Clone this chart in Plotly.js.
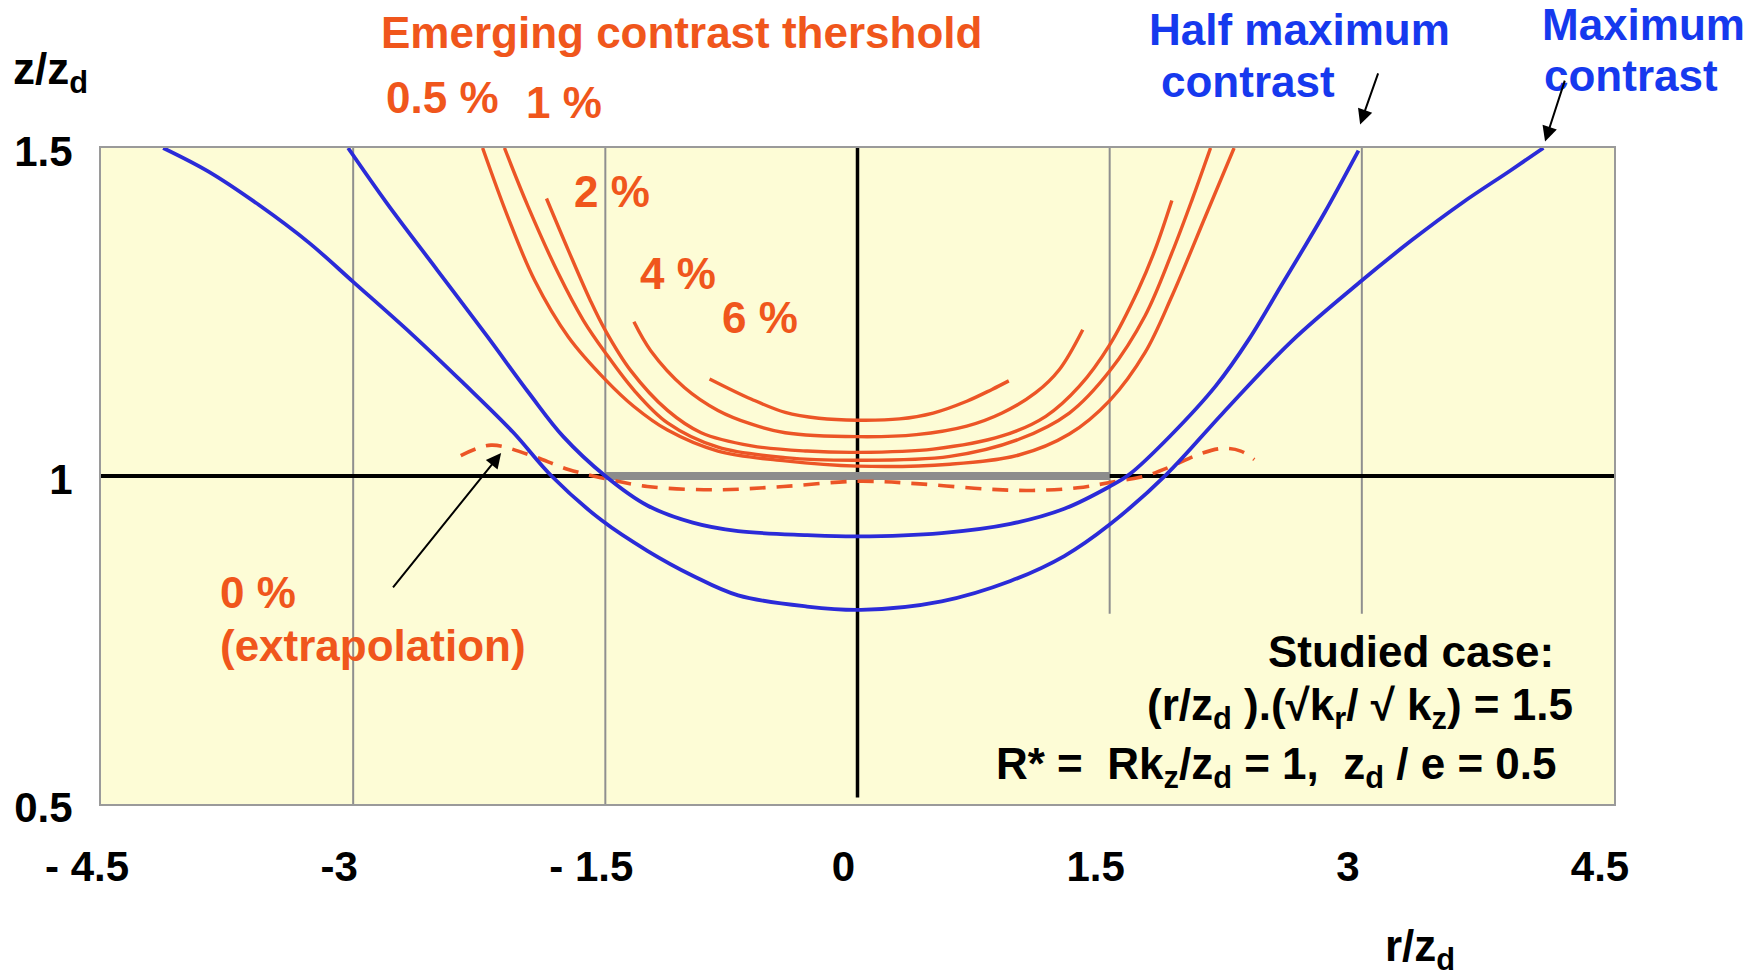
<!DOCTYPE html>
<html>
<head>
<meta charset="utf-8">
<script src="https://cdn.plot.ly/plotly-3.0.1.min.js"></script>
<style>
  html, body { margin: 0; padding: 0; background: #ffffff; }
  #chart { width: 1755px; height: 979px; }
</style>
</head>
<body>
<div id="chart"></div>
<script>
// Contours of z/z_d against r/z_d

// Maximum contrast (outer blue curve)
const maxContrastX = [-4.13, -3.86, -3.56, -3.26, -3.0, -2.65, -2.35, -2.05, -1.82, -1.52, -1.25, -0.98, -0.71, -0.30, 0.02, 0.50, 0.91, 1.23, 1.50, 1.84, 2.17, 2.58, 3.0, 3.30, 3.60, 3.88, 4.08];
const maxContrastY = [1.5, 1.464, 1.413, 1.355, 1.296, 1.216, 1.143, 1.067, 1.0, 0.932, 0.886, 0.848, 0.818, 0.801, 0.796, 0.809, 0.840, 0.878, 0.926, 1.003, 1.095, 1.205, 1.298, 1.360, 1.417, 1.465, 1.5];

// Half maximum contrast (inner blue curve)
const halfMaxX = [-3.03, -2.80, -2.50, -2.20, -1.95, -1.75, -1.50, -1.25, -0.98, -0.71, -0.30, 0.0, 0.50, 0.91, 1.23, 1.50, 1.62, 1.86, 2.13, 2.33, 2.52, 2.64, 2.78, 2.98];
const halfMaxY = [1.5, 1.416, 1.314, 1.212, 1.125, 1.060, 1.0, 0.955, 0.929, 0.916, 0.910, 0.908, 0.913, 0.927, 0.950, 0.984, 1.003, 1.061, 1.137, 1.209, 1.290, 1.341, 1.402, 1.496];

// Emerging contrast thresholds: 0 % (extrapolated), 0.5 %, 1 %, 2 %, 4 %, 6 %
const thr0X = [-2.36, -2.18, -1.96, -1.72, -1.50, -1.25, -0.84, -0.44, 0.0, 0.37, 0.77, 1.04, 1.31, 1.50, 1.71, 1.87, 2.03, 2.17, 2.28, 2.36];
const thr0Y = [1.031, 1.047, 1.033, 1.010, 0.996, 0.984, 0.979, 0.984, 0.992, 0.988, 0.980, 0.978, 0.982, 0.990, 1.0, 1.015, 1.033, 1.042, 1.038, 1.025];

const thr05X = [-2.23, -2.08, -1.92, -1.72, -1.50, -1.33, -1.13, -0.83, -0.43, 0.0, 0.55, 0.96, 1.26, 1.50, 1.71, 1.87, 2.07, 2.24];
const thr05Y = [1.5, 1.395, 1.298, 1.212, 1.147, 1.106, 1.070, 1.038, 1.023, 1.015, 1.018, 1.032, 1.064, 1.115, 1.188, 1.274, 1.396, 1.5];

const thr1X = [-2.10, -1.96, -1.78, -1.63, -1.50, -1.33, -1.13, -0.83, -0.43, 0.0, 0.55, 0.96, 1.26, 1.50, 1.71, 1.87, 1.99, 2.10];
const thr1Y = [1.5, 1.411, 1.309, 1.237, 1.188, 1.131, 1.081, 1.044, 1.028, 1.024, 1.030, 1.056, 1.096, 1.160, 1.244, 1.340, 1.421, 1.5];

const thr2X = [-1.85, -1.72, -1.59, -1.50, -1.35, -1.13, -0.93, -0.63, -0.30, 0.0, 0.45, 0.86, 1.12, 1.32, 1.50, 1.67, 1.77, 1.87];
const thr2Y = [1.423, 1.344, 1.268, 1.222, 1.161, 1.100, 1.066, 1.046, 1.038, 1.036, 1.041, 1.061, 1.091, 1.137, 1.200, 1.284, 1.345, 1.420];

const thr4X = [-1.33, -1.23, -1.03, -0.83, -0.63, -0.43, 0.0, 0.35, 0.65, 0.86, 1.06, 1.20, 1.34];
const thr4Y = [1.235, 1.191, 1.135, 1.100, 1.079, 1.066, 1.060, 1.063, 1.076, 1.096, 1.127, 1.162, 1.223];

const thr6X = [-0.88, -0.63, -0.43, -0.23, 0.0, 0.25, 0.45, 0.65, 0.80, 0.90];
const thr6Y = [1.148, 1.117, 1.097, 1.088, 1.085, 1.087, 1.096, 1.114, 1.132, 1.145];

// Axis ticks
const xTickVals = [-4.5, -3, -1.5, 0, 1.5, 3, 4.5];
const xTickText = ['- 4.5', '-3', '- 1.5', '0', '1.5', '3', '4.5'];
const yTickVals = [0.5, 1, 1.5];
const yTickText = ['0.5', '1', '1.5'];

const X_RANGE = [-4.5, 4.5];
const Y_RANGE = [0.5, 1.5];
const MARGIN = { l: 101, r: 141, t: 148, b: 175 };
const W = 1755, H = 979;
const PLOT_W = W - MARGIN.l - MARGIN.r;
const PLOT_H = H - MARGIN.t - MARGIN.b;

const FONT = 'Liberation Sans, Arial, Helvetica, sans-serif';
const ORANGE_LINE = '#ec5526';
const ORANGE_TEXT = '#f0561c';
const BLUE_LINE = '#2b2bd8';
const BLUE_TEXT = '#1639ee';
const GRID = '#8f8f8f';

// data value -> paper fraction (labels may sit outside the axis ranges)
function px(x) { return (x - X_RANGE[0]) / (X_RANGE[1] - X_RANGE[0]); }
function py(y) { return (y - Y_RANGE[0]) / (Y_RANGE[1] - Y_RANGE[0]); }

function curve(x, y, color, width, dash) {
  return {
    type: 'scatter', mode: 'lines', x: x, y: y, hoverinfo: 'skip',
    line: { color: color, width: width, dash: dash || 'solid', shape: 'spline', smoothing: 1 },
    showlegend: false, cliponaxis: false
  };
}

const traces = [
  curve(thr0X, thr0Y, ORANGE_LINE, 3.6, '16px,11px'),
  curve(thr05X, thr05Y, ORANGE_LINE, 3.4),
  curve(thr1X, thr1Y, ORANGE_LINE, 3.4),
  curve(thr2X, thr2Y, ORANGE_LINE, 3.4),
  curve(thr4X, thr4Y, ORANGE_LINE, 3.4),
  curve(thr6X, thr6Y, ORANGE_LINE, 3.4),
  curve(halfMaxX, halfMaxY, BLUE_LINE, 3.8),
  curve(maxContrastX, maxContrastY, BLUE_LINE, 3.8)
];

// Vertical guide lines at the inner ticks: the centre one is the black axis,
// the two on the right stop above the case description.
const shapes = [];
xTickVals.slice(1, -1).forEach(function (v) {
  if (v === 0) {
    shapes.push({ type: 'line', layer: 'below', xref: 'x', yref: 'y', x0: v, x1: v, y0: 0.51, y1: 1.5,
      line: { color: '#000000', width: 3.5 } });
  } else {
    shapes.push({ type: 'line', layer: 'below', xref: 'x', yref: 'y', x0: v, x1: v, y0: v > 0 ? 0.79 : 0.5, y1: 1.5,
      line: { color: GRID, width: 2 } });
  }
});
// z = z_d reference line with the grey segment over |r/z_d| <= 1.5
shapes.push({ type: 'line', layer: 'below', xref: 'x', yref: 'y', x0: -4.5, x1: 4.5, y0: 1, y1: 1,
  line: { color: '#000000', width: 4 } });
shapes.push({ type: 'line', layer: 'below', xref: 'x', yref: 'y', x0: -1.5, x1: 1.5, y0: 1, y1: 1,
  line: { color: '#8c8c8c', width: 8 } });

function label(text, x, y, color, opts) {
  return Object.assign({
    xref: 'paper', yref: 'paper', x: px(x), y: py(y), text: text, showarrow: false,
    xanchor: 'center', yanchor: 'middle',
    font: { family: FONT, size: 44, color: color, weight: 700 }
  }, opts || {});
}

function arrow(xHead, yHead, xTail, yTail) {
  const ux = PLOT_W / (X_RANGE[1] - X_RANGE[0]);
  const uy = PLOT_H / (Y_RANGE[1] - Y_RANGE[0]);
  return {
    xref: 'paper', yref: 'paper', x: px(xHead), y: py(yHead),
    ax: (xTail - xHead) * ux, ay: -(yTail - yHead) * uy,
    text: '', showarrow: true, arrowhead: 2, arrowsize: 1.5, arrowwidth: 2, arrowcolor: '#000000', standoff: 0
  };
}

const annotations = [
  label('Emerging contrast thershold', -1.047, 1.676, ORANGE_TEXT),
  label('0.5 %', -2.467, 1.577, ORANGE_TEXT),
  label('1 %', -1.747, 1.570, ORANGE_TEXT),
  label('2 %', -1.46, 1.433, ORANGE_TEXT),
  label('4 %', -1.067, 1.309, ORANGE_TEXT),
  label('6 %', -0.58, 1.241, ORANGE_TEXT),
  label('0 %', -3.807, 0.8225, ORANGE_TEXT, { xanchor: 'left' }),
  label('(extrapolation)', -3.807, 0.742, ORANGE_TEXT, { xanchor: 'left' }),
  label('Half maximum', 2.627, 1.681, BLUE_TEXT),
  label('contrast', 2.32, 1.602, BLUE_TEXT),
  label('Maximum', 4.673, 1.689, BLUE_TEXT),
  label('contrast', 4.60, 1.611, BLUE_TEXT),
  label('Studied case:', 3.293, 0.732, '#000000'),
  label('(r/z<sub>d</sub> ).(\u221Ak<sub>r</sub>/ \u221A k<sub>z</sub>) = 1.5', 2.987, 0.647, '#000000'),
  label('R* =\u00A0 Rk<sub>z</sub>/z<sub>d</sub> = 1,\u00A0 z<sub>d</sub> / e = 0.5', 2.493, 0.556, '#000000'),
  label('z/z<sub>d</sub>', -4.80, 1.616, '#000000'),
  label('r/z<sub>d</sub>', 3.347, 0.279, '#000000'),
  arrow(2.99, 1.536, 3.10, 1.616),
  arrow(4.09, 1.510, 4.21, 1.605),
  arrow(-2.12, 1.035, -2.77, 0.828)
];

const layout = {
  width: W, height: H,
  margin: { l: MARGIN.l, r: MARGIN.r, t: MARGIN.t, b: MARGIN.b, pad: 0 },
  paper_bgcolor: '#ffffff',
  plot_bgcolor: '#fdfcd6',
  showlegend: false,
  xaxis: {
    range: X_RANGE, fixedrange: true, showgrid: false, zeroline: false,
    showline: true, mirror: true, linecolor: '#9a9a9a', linewidth: 2,
    tickmode: 'array', tickvals: xTickVals, ticktext: xTickText,
    ticks: '', ticklabelstandoff: 25, ticklabelshift: -14,
    tickfont: { family: FONT, size: 42, color: '#000000', weight: 700 }
  },
  yaxis: {
    range: Y_RANGE, fixedrange: true, showgrid: false, zeroline: false,
    showline: true, mirror: true, linecolor: '#9a9a9a', linewidth: 2,
    tickmode: 'array', tickvals: yTickVals, ticktext: yTickText,
    ticks: '', ticklabelstandoff: 18, ticklabelshift: 3,
    tickfont: { family: FONT, size: 42, color: '#000000', weight: 700 }
  },
  shapes: shapes,
  annotations: annotations
};

Plotly.newPlot('chart', traces, layout, { staticPlot: true, displayModeBar: false });
</script>
</body>
</html>
